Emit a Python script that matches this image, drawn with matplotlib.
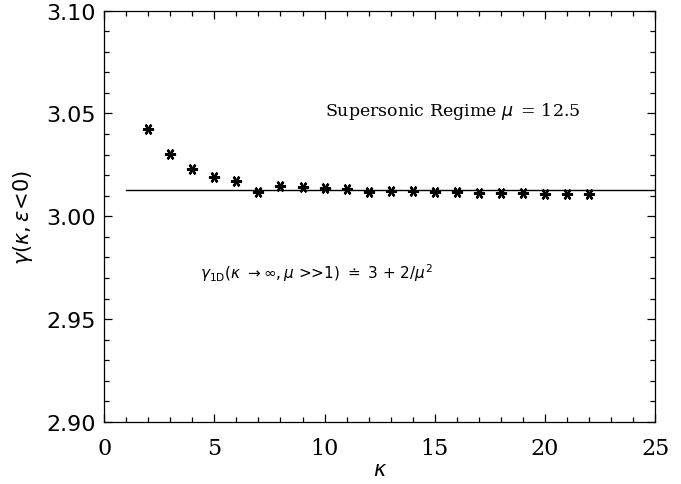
import numpy as np
import matplotlib
matplotlib.use("Agg")
import matplotlib.pyplot as plt
from matplotlib.ticker import MultipleLocator, FormatStrFormatter

# gamma(kappa, eps<0), supersonic case mu = 12.5
kappa = [2, 3, 4, 5, 6, 7, 8, 9, 10, 11, 12, 13, 14, 15, 16, 17, 18, 19, 20, 21, 22]
gamma = [3.0422, 3.0305, 3.0229, 3.0193, 3.0172, 3.0120, 3.0149, 3.0141, 3.0138,
         3.0133, 3.0120, 3.0125, 3.0122, 3.0119, 3.0117, 3.0114, 3.0112, 3.0112,
         3.0109, 3.0109, 3.0106]
mu = 12.5
asym_k = [1, 25]
asym_g = [3 + 2 / mu**2, 3 + 2 / mu**2]

fig = plt.figure(figsize=(6.81, 4.85), dpi=100)
ax = fig.add_axes([0.153, 0.128, 0.809, 0.848])

ax.plot(asym_k, asym_g, color='black', lw=1.0)
ax.plot(kappa, gamma, linestyle='none', marker=(6, 2, 90), markersize=8,
        mew=1.6, color='black')
ax.plot(kappa, gamma, linestyle='none', marker='s', markersize=3, color='black')

ax.set_xlim(0, 25)
ax.set_ylim(2.90, 3.10)
ax.xaxis.set_major_locator(MultipleLocator(5))
ax.xaxis.set_minor_locator(MultipleLocator(1))
ax.yaxis.set_major_locator(MultipleLocator(0.05))
ax.yaxis.set_minor_locator(MultipleLocator(0.01))
ax.yaxis.set_major_formatter(FormatStrFormatter('%.2f'))
ax.tick_params(which='both', direction='in', top=True, right=True, width=0.9)
ax.tick_params(which='major', length=6)
ax.tick_params(which='minor', length=3.5)
ax.tick_params(axis='x', which='major', pad=11)
ax.tick_params(axis='y', which='major', pad=6)
for lab in ax.get_xticklabels():
    lab.set_family('DejaVu Serif')
    lab.set_fontsize(16)
for lab in ax.get_yticklabels():
    lab.set_family('DejaVu Sans')
    lab.set_fontsize(16)
for s in ax.spines.values():
    s.set_linewidth(0.9)

ax.set_xlabel(r'$\kappa$', fontsize=15, labelpad=0)
ax.set_ylabel(r'$\gamma(\kappa,\epsilon\!<\!0)$', fontsize=15, labelpad=8)

ax.text(10.0, 3.0515, r'Supersonic Regime $\mu\,$ = 12.5', family='DejaVu Serif',
        fontsize=12.5, va='center')
ax.text(4.35, 2.973, r'$\gamma_{\rm 1D}(\kappa\ \rightarrow \infty,\mu$ >>1) $\doteq$ 3 + 2/$\mu^2$',
        fontsize=11, va='center')

fig.savefig('out.png', dpi=100)
